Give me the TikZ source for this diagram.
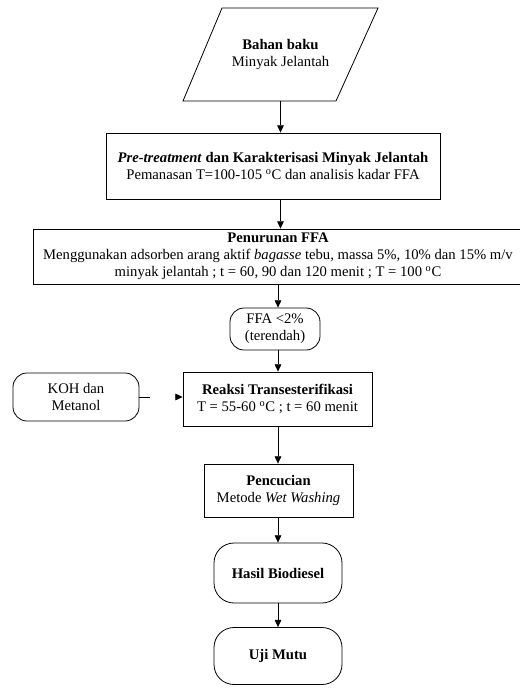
\documentclass[tikz,border=0pt]{standalone}
\usepackage{fontspec}
\setmainfont{Liberation Serif}
\usetikzlibrary{arrows.meta, shapes.geometric, positioning, calc}

\begin{document}
\begin{tikzpicture}[x=0.75pt, y=-0.75pt,
        every node/.style={font=\fontsize{11}{12.7}\selectfont, align=center, inner sep=0pt},
        kotak/.style={draw, line width=0.6pt, rectangle},
        ujung/.style={draw, line width=0.6pt, rectangle, rounded corners=10.5pt},
        panah/.style={-{Triangle[length=5.5pt, width=5pt]}, line width=0.6pt}]
        \useasboundingbox (0,0) rectangle (520,688);

        \node[minimum width=146.25pt, minimum height=69.75pt] (bahan) at (280.5, 54.5) {\textbf{Bahan baku}\\Minyak Jelantah};
        \draw[line width=0.6pt] ($(bahan.center)+(-97.5,46.5)$) -- ($(bahan.center)+(55.5,46.5)$) -- ($(bahan.center)+(97.5,-46.5)$) -- ($(bahan.center)+(-58.5,-46.5)$) -- cycle;
        \node[kotak, minimum width=250.5pt, minimum height=49.5pt] (pretreat) at (273, 166) {\textbf{\textit{Pre-treatment}} \textbf{dan Karakterisasi Minyak Jelantah}\\Pemanasan T=100-105 \textsuperscript{o}C dan analisis kadar FFA};
        \node[kotak, minimum width=367.5pt, minimum height=41.25pt] (penurunan) at (278, 256.5) {\textbf{Penurunan FFA}\\Menggunakan adsorben arang aktif \textit{bagasse} tebu, massa 5\%, 10\% dan 15\% m/v\\minyak jelantah ; t = 60, 90 dan 120 menit ; T = 100 \textsuperscript{o}C};
        \node[ujung, minimum width=67.5pt, minimum height=31.5pt] (ffa) at (275, 329) {FFA <2\%\\(terendah)};
        \node[kotak, minimum width=141.75pt, minimum height=40.5pt] (reaksi) at (277.5, 399) {\textbf{Reaksi Transesterifikasi}\\T = 55-60 \textsuperscript{o}C ; t = 60 menit};
        \node[ujung, minimum width=94.5pt, minimum height=36pt] (koh) at (76, 397) {KOH dan\\Metanol};
        \node[kotak, minimum width=111.75pt, minimum height=39.75pt] (pencucian) at (278.5, 490.5) {\textbf{Pencucian}\\Metode \textit{Wet Washing}};
        \node[ujung, rounded corners=15pt, minimum width=96pt, minimum height=45pt] (hasil) at (278, 573) {\textbf{Hasil Biodiesel}};
        \node[ujung, rounded corners=15pt, minimum width=96pt, minimum height=42.75pt] (uji) at (278, 656) {\textbf{Uji Mutu}};

        % alur utama
        \draw[panah] (bahan.south) -- (bahan.south |- pretreat.north);
        \draw[panah] (bahan.south |- pretreat.south) -- (bahan.south |- penurunan.north);
        \draw[panah] (penurunan.south -| 278,0) -- (ffa.north -| 278,0);
        \draw[panah] (ffa.south -| 278,0) -- (reaksi.north -| 278,0);
        \draw[panah] (reaksi.south -| 278,0) -- (pencucian.north -| 278,0);
        \draw[panah] (pencucian.south -| 278,0) -- (hasil.north -| 278,0);
        \draw[panah] (hasil.south) -- (uji.north);

        % bahan tambahan
        \draw[panah, dash pattern=on 8.25pt off 40pt] (koh.east) -- (koh.east -| reaksi.west);
      \end{tikzpicture}
\end{document}
